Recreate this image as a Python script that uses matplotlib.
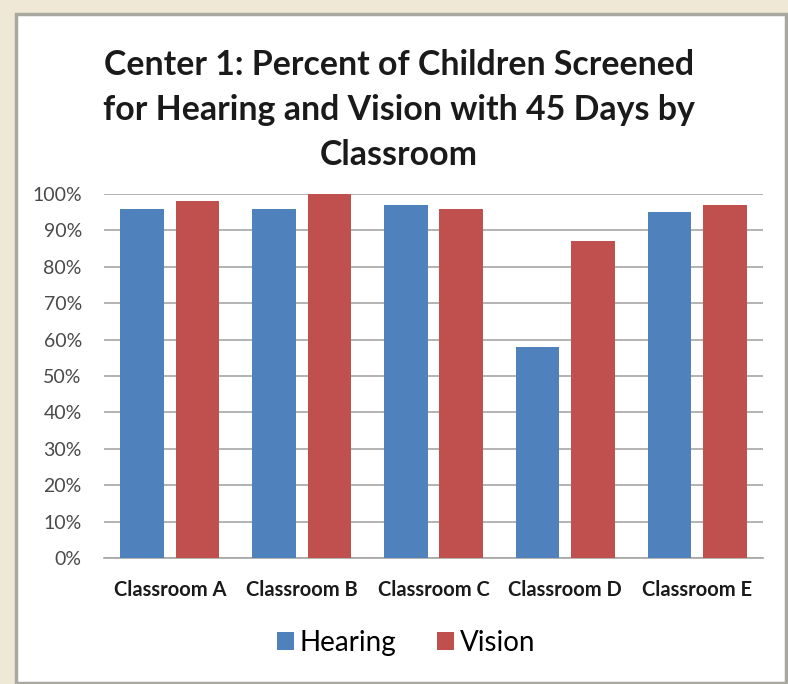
import numpy as np
import matplotlib
matplotlib.use("Agg")
import matplotlib.pyplot as plt
import matplotlib.patches as patches
from matplotlib.ticker import PercentFormatter

# --- data ---
classrooms = ["Classroom A", "Classroom B", "Classroom C", "Classroom D", "Classroom E"]
hearing = [96, 96, 97, 58, 95]
vision = [98, 100, 96, 87, 97]
series_names = ["Hearing", "Vision"]
title = "Center 1: Percent of Children Screened\nfor Hearing and Vision with 45 Days by\nClassroom"

# --- style ---
BLUE = "#4F81BD"
RED = "#C0504D"
GRID = "#a6a6a6"
FONT = "Lato"

plt.rcParams.update({"font.family": [FONT, "DejaVu Sans"]})
fig = plt.figure(figsize=(7.88, 6.84), dpi=100)
fig.patch.set_facecolor("#efe8d6")

# white chart area with grey frame (Excel style)
W, H = 788, 684
fig.patches.append(patches.Rectangle((16 / W, 1 - 683 / H), 770 / W, 669 / H, transform=fig.transFigure,
                                     facecolor="white", edgecolor="#a8a8a0", linewidth=2.5, zorder=-5))

ax = fig.add_axes([104 / W, 1 - 558 / H, 659 / W, 364 / H])
ax.set_facecolor("none")

x = np.arange(len(classrooms))
w = 0.33
ax.bar(x - 0.21, hearing, w, color=BLUE, label=series_names[0], zorder=3)
ax.bar(x + 0.21, vision, w, color=RED, label=series_names[1], zorder=3)

ax.set_xlim(-0.5, len(classrooms) - 0.5)
ax.set_ylim(0, 100)
ax.set_yticks(np.arange(0, 101, 10))
ax.yaxis.set_major_formatter(PercentFormatter(decimals=0))
ax.grid(axis="y", color=GRID, linewidth=1.2, zorder=0)
for s in ["top", "right", "left"]:
    ax.spines[s].set_visible(False)
ax.spines["bottom"].set_color(GRID)
ax.spines["bottom"].set_linewidth(1.2)
ax.tick_params(axis="y", length=0, pad=16, labelsize=14, labelcolor="#4a4a4a")
ax.tick_params(axis="x", length=0, pad=16)
ax.set_xticks(x)
ax.set_xticklabels(classrooms, fontsize=14.5, fontweight="bold", color="#1a1a1a")

fig.text(399 / W, 1 - 110 / H, title, ha="center", va="center", fontsize=24.4, fontweight="bold",
         color="#1a1a1a", linespacing=1.5)

fig.legend(loc="center", bbox_to_anchor=(406 / W, 1 - 643 / H), ncol=2, frameon=False, fontsize=20,
           handlelength=0.6, handleheight=0.6, handletextpad=0.2, columnspacing=1.5)

fig.savefig("out.png", dpi=100, facecolor=fig.get_facecolor())
